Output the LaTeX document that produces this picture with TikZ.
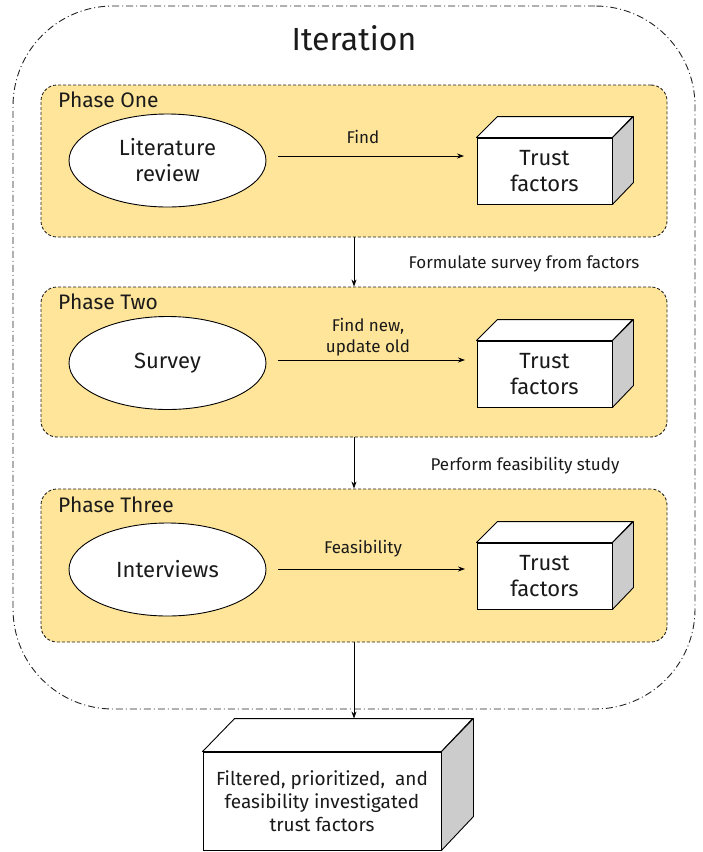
\documentclass[tikz,border=0pt]{standalone}
\usepackage{fontspec}
\setmainfont{Fira Sans}
\usetikzlibrary{arrows.meta,shapes.geometric}
\definecolor{phasefill}{HTML}{FFE599}
\definecolor{sideg}{HTML}{CCCCCC}
\definecolor{lineg}{HTML}{222222}
\definecolor{txt}{HTML}{1A1A1A}
\tikzset{
  outerbox/.style={draw=lineg, line width=0.9pt, dash pattern=on 7pt off 3pt on 1pt off 3pt, rounded corners=100pt, minimum width=682pt, minimum height=703pt, inner sep=0pt},
  phasebox/.style={draw=lineg, line width=0.9pt, fill=phasefill, dash pattern=on 3pt off 2pt, rounded corners=16pt, minimum width=626pt, inner sep=0pt},
  oval/.style={ellipse, draw=black, line width=0.9pt, fill=white, minimum width=197pt, minimum height=93pt, inner sep=0pt, align=center, font=\fontsize{22}{26}\selectfont, text=txt},
  front/.style={draw=black, line width=0.9pt, fill=white, minimum width=135pt, minimum height=66pt, inner sep=0pt, align=center, font=\fontsize{22}{26}\selectfont, text=txt},
  bigfront/.style={draw=black, line width=0.9pt, fill=white, minimum width=238pt, minimum height=98pt, inner sep=0pt, align=center, font=\fontsize{19}{23}\selectfont, text=txt},
  topface/.style={draw=black, line width=0.9pt, fill=white, line join=round},
  sideface/.style={draw=black, line width=0.9pt, fill=sideg, line join=round},
  arr/.style={draw=black, line width=0.8pt, -{Stealth[length=7pt,width=5pt]}},
  lbl/.style={font=\fontsize{17}{21}\selectfont, text=txt, align=center, inner sep=0pt},
  phaselbl/.style={font=\fontsize{21}{24}\selectfont, text=txt, anchor=west, inner sep=0pt},
}
\begin{document}
\begin{tikzpicture}[x=1pt,y=-1pt]
\useasboundingbox (0,0) rectangle (702,852);
% outer iteration box
\node[outerbox] (iter) at (354,357.5) {};
\node[font=\fontsize{32}{36}\selectfont, text=txt, inner sep=0pt] (ititle) at (354,38) {Iteration};
% phase boxes
\node[phasebox, minimum height=152pt] (p1) at (354,161) {};
\node[phasebox, minimum height=150pt] (p2) at (354,362) {};
\node[phasebox, minimum height=153pt] (p3) at (354,565.5) {};
\node[phaselbl] (p1l) at (58,100) {Phase One};
\node[phaselbl] (p2l) at (58,302) {Phase Two};
\node[phaselbl] (p3l) at (58,505) {Phase Three};
% ellipses
\node[oval] (e1) at (167.5,160.5) {Literature\\review};
\node[oval] (e2) at (167.5,363) {Survey};
\node[oval] (e3) at (167.5,569.5) {Interviews};
% cubes
\foreach \n/\y in {c1/171, c2/374, c3/576}{
  \node[front] (\n) at (544.5,\y) {Trust\\factors};
  \filldraw[topface] (\n.north west) -- ++(21,-21) -- ++(135,0) -- (\n.north east) -- cycle;
  \filldraw[sideface] (\n.north east) -- ++(21,-21) -- ++(0,66) -- (\n.south east) -- cycle;
}
\node[bigfront] (fin) at (322,801) {Filtered, prioritized,\ \ and\\feasibility investigated\\trust factors};
\filldraw[topface] (fin.north west) -- ++(32,-33) -- ++(238,0) -- (fin.north east) -- cycle;
\filldraw[sideface] (fin.north east) -- ++(32,-33) -- ++(0,98) -- (fin.south east) -- cycle;
% horizontal arrows
\coordinate (a1s) at (278,156); \coordinate (a1e) at (464,156);
\coordinate (a2s) at (278,360); \coordinate (a2e) at (465,360);
\coordinate (a3s) at (278,569); \coordinate (a3e) at (465,569);
\draw[arr] (a1s) -- (a1e);
\draw[arr] (a2s) -- (a2e);
\draw[arr] (a3s) -- (a3e);
\node[lbl] (l1) at (363,137) {Find};
\node[lbl] (l2) at (368,337) {Find new,\\update old};
\node[lbl] (l3) at (363,549) {Feasibility};
% vertical arrows
\draw[arr] (p1.south) -- (p2.north);
\draw[arr] (p2.south) -- (p3.north);
\coordinate (finin) at ([xshift=32pt,yshift=33pt]fin.north);
\draw[arr] (p3.south) -- (finin);
\node[lbl] (v1) at (524,264) {Formulate survey from factors};
\node[lbl] (v2) at (525,466) {Perform feasibility study};
\end{tikzpicture}
\end{document}
